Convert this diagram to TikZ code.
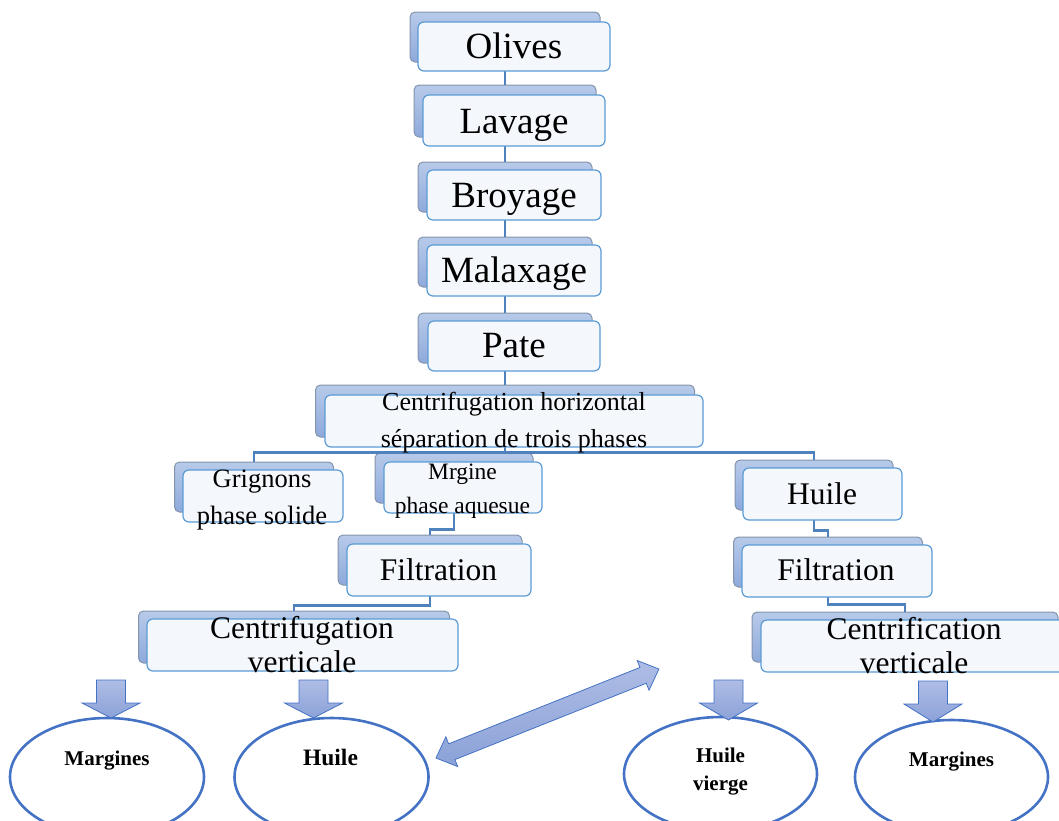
\documentclass[tikz,border=0pt]{standalone}
\usepackage{fontspec}
\setmainfont{Liberation Serif}
\usetikzlibrary{shapes.geometric}
\definecolor{backtop}{HTML}{B7CAE9}
\definecolor{backbot}{HTML}{8EA9DB}
\definecolor{backline}{HTML}{8494AC}
\definecolor{frontfill}{HTML}{F4F7FC}
\definecolor{frontline}{HTML}{5B9BD5}
\definecolor{linkblue}{HTML}{4F81BD}
\definecolor{ovalblue}{HTML}{4472C4}
\definecolor{arrtop}{HTML}{AEBDE5}
\definecolor{arrbot}{HTML}{8BA1D7}

\begin{document}
\begin{tikzpicture}[x=1pt,y=-1pt]
\tikzstyle{back}=[draw=backline,line width=1pt,rounded corners=5pt,top color=backtop,bottom color=backbot,inner sep=0]
\tikzstyle{front}=[draw=frontline,line width=1.2pt,rounded corners=6pt,fill=frontfill,inner sep=0]
\tikzstyle{link}=[draw=linkblue,line width=2.5pt]
\tikzstyle{txt}=[inner sep=0,align=center]
\tikzstyle{big}=[txt,anchor=base,font=\fontsize{37}{40}\selectfont]
\tikzstyle{mid}=[txt,font=\fontsize{31.5}{34}\selectfont]
\tikzstyle{oval}=[ellipse,draw=ovalblue,line width=2.6pt,fill=white,inner sep=0]
\tikzstyle{otxt}=[txt,font=\bfseries\fontsize{21}{28}\selectfont]
\tikzstyle{blk}=[draw=ovalblue,line width=0.8pt,top color=arrtop,bottom color=arrbot]
\useasboundingbox (0,0) rectangle (1059,820);
\clip (0,0) rectangle (1059,820);

% back boxes
\node[back,minimum width=190,minimum height=50] (olivesb) at (505,37) {};
\node[back,minimum width=182,minimum height=52] (lavageb) at (505,111) {};
\node[back,minimum width=174,minimum height=50] (broyageb) at (505,187) {};
\node[back,minimum width=174,minimum height=50] (malaxb) at (505,262) {};
\node[back,minimum width=174,minimum height=50] (pateb) at (505,338) {};
\node[back,minimum width=379,minimum height=52] (centb) at (505,411) {};
\node[back,minimum width=159,minimum height=50] (grigb) at (254,487) {};
\node[back,minimum width=158,minimum height=50] (mrgb) at (454,478) {};
\node[back,minimum width=184,minimum height=50] (filtlb) at (430,560) {};
\node[back,minimum width=311,minimum height=52] (cvlb) at (294,637) {};
\node[back,minimum width=158,minimum height=50] (huileb) at (814,485) {};
\node[back,minimum width=189,minimum height=50] (filtrb) at (828,562) {};
\node[back,minimum width=306,minimum height=50] (cvrb) at (905,637) {};

% links
\draw[link] (olivesb.south) -- (lavageb.north);
\draw[link] (lavageb.south) -- (broyageb.north);
\draw[link] (broyageb.south) -- (malaxb.north);
\draw[link] (malaxb.south) -- (pateb.north);
\draw[link] (pateb.south) -- (centb.north);
\draw[link] (centb.south) -- ++(0,15) -| (grigb.north);
\draw[link] (centb.south) -- ++(0,15) -| (mrgb.north);
\draw[link] (centb.south) -- ++(0,15) -| (huileb.north);
\draw[link] (mrgb.south) -- ++(0,26) -| (filtlb.north);
\draw[link] (filtlb.south) -- ++(0,20) -| (cvlb.north);
\draw[link] (huileb.south) -- ++(0,20) -| (filtrb.north);
\draw[link] (filtrb.south) -- ++(0,17) -| (cvrb.north);

% front boxes
\node[front,minimum width=192,minimum height=49] (olives) at (514,46.5) {};
\node[front,minimum width=182,minimum height=51] (lavage) at (514,120.5) {};
\node[front,minimum width=174,minimum height=50] (broyage) at (514,195) {};
\node[front,minimum width=174,minimum height=51] (malax) at (514,270.5) {};
\node[front,minimum width=172,minimum height=50] (pate) at (514,346) {};
\node[front,minimum width=378,minimum height=52] (cent) at (514,421) {};
\node[front,minimum width=160,minimum height=52] (grig) at (263,496) {};
\node[front,minimum width=158,minimum height=51] (mrg) at (463,487.5) {};
\node[front,minimum width=184,minimum height=52] (filtl) at (439,570) {};
\node[front,minimum width=311,minimum height=52] (cvl) at (302.5,645) {};
\node[front,minimum width=159,minimum height=52] (huile) at (822.5,494) {};
\node[front,minimum width=190,minimum height=52] (filtr) at (837,571) {};
\node[front,minimum width=306,minimum height=52] (cvr) at (914,646) {};

% texts
\node[big] (olivest) at (514,58) {Olives};
\node[big] (lavaget) at (514,133) {Lavage};
\node[big] (broyaget) at (514,207) {Broyage};
\node[big] (malaxt) at (514,282) {Malaxage};
\node[big] (patet) at (514,357) {Pate};
\node[txt,font=\fontsize{26}{37}\selectfont] (centt) at (514,423) {Centrifugation horizontal\\s\'eparation de trois phases};
\node[txt,font=\fontsize{26.5}{37}\selectfont] (grigt) at (262,500) {Grignons\\phase solide};
\node[txt,font=\fontsize{23.5}{34}\selectfont] (mrgt) at (462.5,491.5) {Mrgine\\phase aquesue};
\node[mid,anchor=base] (filtlt) at (438.5,580) {Filtration};
\node[mid] (cvlt) at (302,645) {Centrifugation\\verticale};
\node[mid,anchor=base] (huilet) at (822,504) {Huile};
\node[mid,anchor=base] (filtrt) at (836,580) {Filtration};
\node[mid] (cvrt) at (914,645.5) {Centrification\\verticale};

% results
\node[oval,minimum width=194,minimum height=118] (marg1) at (107,777) {};
\node[oval,minimum width=194,minimum height=118] (huile1) at (331.5,777) {};
\node[oval,minimum width=193,minimum height=114] (vierge) at (720.5,774) {};
\node[oval,minimum width=193,minimum height=114] (marg2) at (951.5,777) {};
\node[otxt,anchor=base] (marg1t) at (107,765) {Margines};
\node[otxt,anchor=base,font=\bfseries\fontsize{23.5}{27}\selectfont] (huile1t) at (330.5,765) {Huile};
\node[otxt] (vierget) at (720.5,772) {Huile\\vierge};
\node[otxt,anchor=base] (marg2t) at (951.5,766) {Margines};

\foreach \ax/\at/\al in {111/680/38, 313.5/680/38, 728.5/680/40, 933/681/41}
  \draw[blk] (\ax-14.5,\at) -- (\ax+14.5,\at) -- (\ax+14.5,\at+23) -- (\ax+29,\at+23)
    -- (\ax,\at+\al) -- (\ax-29,\at+23) -- (\ax-14.5,\at+23) -- cycle;

\begin{scope}[shift={(436,758)},rotate=21.76]
\draw[blk] (0,0) -- (17,16) -- (17,8.5) -- (223,8.5) -- (223,16) -- (240,0)
  -- (223,-16) -- (223,-8.5) -- (17,-8.5) -- (17,-16) -- cycle;
\end{scope}
\end{tikzpicture}
\end{document}
